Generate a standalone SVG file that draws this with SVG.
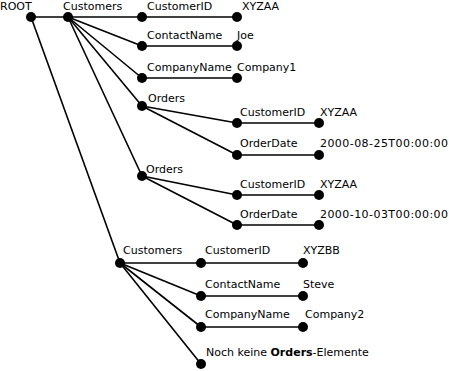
<svg xmlns="http://www.w3.org/2000/svg" width="449" height="371" viewBox="0 0 449 371">
<style>
text{font-family:"DejaVu Sans",Verdana,sans-serif;font-size:11px;fill:#000}
.e line{stroke:#000;stroke-width:1.6}
circle{fill:#000}
</style>
<rect width="449" height="371" fill="#fff"/>
<g class="e" id="connectors">
<line x1="31" y1="17" x2="68" y2="17"/>
<line x1="31" y1="17" x2="120" y2="263"/>
<line x1="68" y1="17" x2="142" y2="17"/>
<line x1="68" y1="17" x2="142" y2="46"/>
<line x1="68" y1="17" x2="142" y2="78"/>
<line x1="68" y1="17" x2="142" y2="106"/>
<line x1="68" y1="17" x2="142" y2="176"/>
<line x1="142" y1="17" x2="237" y2="17"/>
<line x1="142" y1="46" x2="237" y2="46"/>
<line x1="142" y1="78" x2="237" y2="78"/>
<line x1="142" y1="106" x2="237" y2="123"/>
<line x1="142" y1="106" x2="237" y2="155"/>
<line x1="237" y1="123" x2="319" y2="123"/>
<line x1="237" y1="155" x2="319" y2="155"/>
<line x1="142" y1="176" x2="237" y2="195"/>
<line x1="142" y1="176" x2="237" y2="225"/>
<line x1="237" y1="195" x2="319" y2="195"/>
<line x1="237" y1="225" x2="319" y2="225"/>
<line x1="120" y1="263" x2="201" y2="263"/>
<line x1="120" y1="263" x2="201" y2="296"/>
<line x1="120" y1="263" x2="201" y2="327"/>
<line x1="120" y1="263" x2="201" y2="364"/>
<line x1="201" y1="263" x2="303" y2="263"/>
<line x1="201" y1="296" x2="303" y2="296"/>
<line x1="201" y1="327" x2="303" y2="327"/>
</g>
<g id="root"><circle cx="31" cy="17" r="5"/><text x="0" y="10">ROOT</text></g>
<g id="customers1"><circle cx="68" cy="17" r="5"/><text x="63" y="10">Customers</text></g>
<g id="c1-customerid"><circle cx="142" cy="17" r="5"/><text x="147" y="10">CustomerID</text></g>
<g id="c1-customerid-val"><circle cx="237" cy="17" r="5"/><text x="242" y="10">XYZAA</text></g>
<g id="c1-contactname"><circle cx="142" cy="46" r="5"/><text x="147" y="39">ContactName</text></g>
<g id="c1-contactname-val"><circle cx="237" cy="46" r="5"/><text x="237" y="39">Joe</text></g>
<g id="c1-companyname"><circle cx="142" cy="78" r="5"/><text x="147" y="71">CompanyName</text></g>
<g id="c1-companyname-val"><circle cx="237" cy="78" r="5"/><text x="237" y="71">Company1</text></g>
<g id="orders1"><circle cx="142" cy="106" r="5"/><text x="148" y="102">Orders</text></g>
<g id="o1-customerid"><circle cx="237" cy="123" r="5"/><text x="240" y="116">CustomerID</text></g>
<g id="o1-customerid-val"><circle cx="319" cy="123" r="5"/><text x="320" y="116">XYZAA</text></g>
<g id="o1-orderdate"><circle cx="237" cy="155" r="5"/><text x="240" y="147">OrderDate</text></g>
<g id="o1-orderdate-val"><circle cx="319" cy="155" r="5"/><text x="320" y="147" textLength="128" lengthAdjust="spacing">2000-08-25T00:00:00</text></g>
<g id="orders2"><circle cx="142" cy="176" r="5"/><text x="146" y="173">Orders</text></g>
<g id="o2-customerid"><circle cx="237" cy="195" r="5"/><text x="240" y="188">CustomerID</text></g>
<g id="o2-customerid-val"><circle cx="319" cy="195" r="5"/><text x="320" y="188">XYZAA</text></g>
<g id="o2-orderdate"><circle cx="237" cy="225" r="5"/><text x="240" y="218">OrderDate</text></g>
<g id="o2-orderdate-val"><circle cx="319" cy="225" r="5"/><text x="320" y="218" textLength="128" lengthAdjust="spacing">2000-10-03T00:00:00</text></g>
<g id="customers2"><circle cx="120" cy="263" r="5"/><text x="123" y="254">Customers</text></g>
<g id="c2-customerid"><circle cx="201" cy="263" r="5"/><text x="205" y="254">CustomerID</text></g>
<g id="c2-customerid-val"><circle cx="303" cy="263" r="5"/><text x="303" y="254">XYZBB</text></g>
<g id="c2-contactname"><circle cx="201" cy="296" r="5"/><text x="205" y="288">ContactName</text></g>
<g id="c2-contactname-val"><circle cx="303" cy="296" r="5"/><text x="303" y="288">Steve</text></g>
<g id="c2-companyname"><circle cx="201" cy="327" r="5"/><text x="205" y="318">CompanyName</text></g>
<g id="c2-companyname-val"><circle cx="303" cy="327" r="5"/><text x="305" y="318">Company2</text></g>
<g id="c2-noorders"><circle cx="201" cy="364" r="5"/><text x="206" y="356">Noch keine <tspan font-weight="bold">Orders</tspan>-Elemente</text></g>
</svg>
